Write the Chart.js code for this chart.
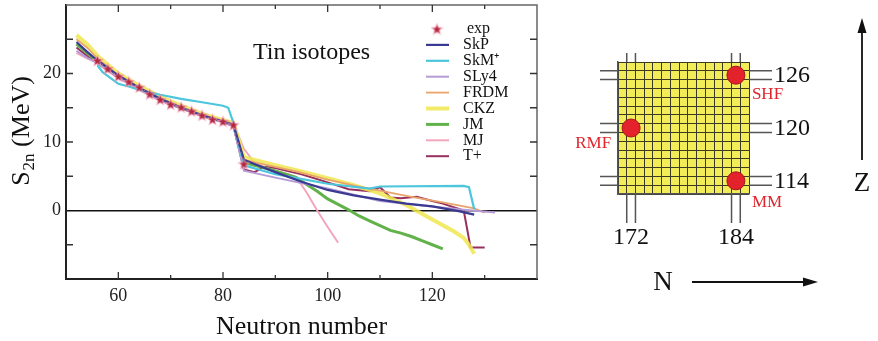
<!DOCTYPE html>
<html>
<head>
<meta charset="utf-8">
<title>Tin isotopes S2n</title>
<script src="https://cdn.jsdelivr.net/npm/chart.js@4.4.1/dist/chart.umd.min.js"></script>
<style>
    body { margin: 0; background: #fff; }
    #wrap { position: relative; width: 878px; height: 341px; }
    #left { position: absolute; left: 0; top: 0; width: 560px; height: 341px; }
    #right { position: absolute; left: 560px; top: 0; width: 318px; height: 341px; }
</style>
</head>
<body>
<div id="wrap">
    <div id="left"><canvas id="s2n"></canvas></div>
    <div id="right"><canvas id="island"></canvas></div>
</div>
<script>
// Ejes de la gráfica izquierda
const xTicks = [60, 80, 100, 120];
const yTicks = [0, 10, 20];
const xMinor = [60, 70, 80, 90, 100, 110, 120, 130];
const yMinor = [-5, 5, 10, 15, 20, 25];

// Datos experimentales
const expN = [56, 58, 60, 62, 64, 66, 68, 70, 72, 74, 76, 78, 80, 82, 84];
const expS = [21.9, 20.7, 19.6, 18.8, 18.0, 17.0, 16.2, 15.5, 15.1, 14.5, 13.9, 13.3, 13.0, 12.5, 6.8];

// Modelos teóricos
const skpN = [52, 54, 56, 60, 64, 68, 72, 76, 80, 82, 84, 86, 90, 95, 100, 105, 110, 115, 120, 125, 128];
const skpS = [24.6, 23.2, 21.9, 19.7, 17.9, 16.3, 15.0, 13.9, 13.0, 12.5, 7.4, 6.8, 5.6, 4.2, 3.0, 2.2, 1.6, 1.0, 0.6, -0.1, -0.6];

const skmN = [56, 57, 60, 62, 64, 68, 72, 76, 80, 81, 82, 84, 90, 100, 108, 110, 126, 127, 128];
const skmS = [21.2, 20.2, 18.5, 18.1, 17.6, 16.9, 16.3, 15.8, 15.3, 15.0, 12.8, 6.6, 5.3, 3.9, 3.2, 3.5, 3.6, 3.4, 0.2];

const sly4N = [52, 54, 56, 60, 64, 68, 72, 76, 80, 82, 84, 90, 100, 110, 120, 126, 132];
const sly4S = [23.3, 22.3, 21.5, 19.4, 17.7, 16.1, 14.9, 13.8, 12.9, 12.3, 5.8, 4.8, 3.2, 1.4, 0.6, 0.1, -0.3];

const frdmN = [52, 54, 56, 60, 64, 68, 72, 76, 80, 82, 84, 88, 94, 100, 106, 110, 116, 122, 128, 130];
const frdmS = [25.0, 23.8, 22.2, 19.8, 18.0, 16.4, 15.1, 14.0, 13.1, 12.7, 7.4, 6.7, 5.7, 4.5, 3.5, 2.9, 2.0, 1.2, 0.3, -0.3];

const ckzN = [52, 54, 56, 60, 64, 68, 72, 76, 80, 82, 84, 90, 95, 100, 105, 110, 115, 120, 124, 126, 127, 128];
const ckzS = [25.6, 24.3, 22.6, 20.0, 18.2, 16.6, 15.3, 14.1, 13.2, 12.8, 7.8, 6.6, 5.7, 4.7, 3.7, 2.5, 0.8, -1.3, -3.0, -4.0, -5.0, -6.3];

const jmN = [52, 54, 56, 60, 64, 68, 72, 76, 80, 82, 84, 88, 92, 94, 96, 98, 100, 102, 104, 106, 108, 110, 112, 114, 116, 118, 120, 122];
const jmS = [24.3, 23.0, 21.8, 19.6, 17.8, 16.2, 15.0, 13.9, 13.0, 12.5, 7.0, 6.2, 5.3, 4.8, 3.8, 2.8, 1.7, 0.9, 0.1, -0.8, -1.5, -2.2, -2.9, -3.3, -3.8, -4.4, -5.0, -5.6];

const mjN = [52, 54, 56, 60, 64, 68, 72, 76, 80, 82, 84, 86, 88, 90, 92, 94, 96, 98, 100, 102];
const mjS = [23.0, 22.2, 21.6, 19.5, 17.8, 16.2, 15.0, 13.9, 13.0, 12.6, 9.0, 7.0, 6.3, 5.8, 5.4, 4.9, 2.6, 0.0, -2.4, -4.7];

const tpN = [52, 54, 56, 60, 64, 68, 72, 76, 80, 82, 84, 86, 88, 90, 95, 100, 104, 108, 110, 112, 114, 117, 120, 122, 126, 127.3, 130];
const tpS = [23.8, 22.6, 21.5, 19.4, 17.7, 16.1, 14.9, 13.8, 12.9, 12.3, 6.0, 5.6, 6.4, 6.2, 5.3, 4.1, 3.1, 2.8, 3.4, 1.9, 1.8, 2.0, 1.4, 1.0, 0.0, -5.4, -5.4];

// Diagrama de la isla de estabilidad
const magicN = [172, 184];
const magicZ = [114, 120, 126];
const modelNames = ["SHF", "RMF", "MM"];
const modelN = [184, 172, 184];
const modelZ = [126, 120, 114];

const serif = '"Liberation Serif", "Times New Roman", serif';
Chart.defaults.font.family = serif;

function pts(ns, ss) {
    return ns.map((n, i) => ({ x: n, y: ss[i] }));
}

// Estrella rellena para los puntos experimentales
function makeStar(r) {
    const c = document.createElement("canvas");
    const s = Math.ceil(r * 2 + 4);
    c.width = c.height = s;
    const g = c.getContext("2d");
    g.translate(s / 2, s / 2 + 0.5);
    g.beginPath();
    for (let i = 0; i < 10; i++) {
        const rad = i % 2 ? r * 0.45 : r;
        const ang = -Math.PI / 2 + i * Math.PI / 5;
        g.lineTo(rad * Math.cos(ang), rad * Math.sin(ang));
    }
    g.closePath();
    g.strokeStyle = "rgba(240,150,175,0.8)";
    g.lineWidth = 2;
    g.stroke();
    g.fillStyle = "#b3283f";
    g.fill();
    return c;
}
const star = makeStar(4.2);

function model(label, ns, ss, color, width) {
    return {
        label: label,
        data: pts(ns, ss),
        borderColor: color,
        borderWidth: width || 2,
        pointRadius: 0,
        tension: 0,
        fill: false
    };
}

const datasets = [
    {
        label: "exp",
        data: pts(expN, expS),
        borderColor: "rgba(225,120,150,0.7)",
        borderWidth: 1,
        borderDash: [2, 3],
        pointStyle: star,
        pointRadius: 4,
        showLine: true
    },
    model("SkP", skpN, skpS, "#3a3a92", 2.2),
    model("SkM\u207A", skmN, skmS, "#4cc6dc", 2.2),
    model("SLy4", sly4N, sly4S, "#b49cd6", 2),
    model("FRDM", frdmN, frdmS, "#e9a46c", 1.8),
    model("CKZ", ckzN, ckzS, "rgba(240,232,80,0.85)", 4),
    model("JM", jmN, jmS, "#62b24c", 3),
    model("MJ", mjN, mjS, "#f2a6bc", 2),
    model("T+", tpN, tpS, "#98305e", 2)
];

// Marco, marcas interiores, leyenda y títulos
const framePlugin = {
    id: "frame",
    afterDraw(chart) {
        const { ctx, chartArea: a, scales: { x, y } } = chart;
        ctx.save();
        ctx.strokeStyle = "#666";
        ctx.lineWidth = 1.5;
        ctx.beginPath();
        ctx.moveTo(a.left, a.top);
        ctx.lineTo(a.right, a.top);
        ctx.lineTo(a.right, a.bottom);
        ctx.stroke();

        ctx.strokeStyle = "#333";
        ctx.lineWidth = 1.3;
        ctx.beginPath();
        xMinor.forEach(v => {
            const px = x.getPixelForValue(v);
            const len = v % 20 === 0 ? 7 : 4;
            ctx.moveTo(px, a.bottom); ctx.lineTo(px, a.bottom - len);
            ctx.moveTo(px, a.top); ctx.lineTo(px, a.top + len);
        });
        yMinor.forEach(v => {
            const py = y.getPixelForValue(v);
            ctx.moveTo(a.left, py); ctx.lineTo(a.left + 7, py);
            ctx.moveTo(a.right, py); ctx.lineTo(a.right - 7, py);
        });
        ctx.stroke();

        // Título interior
        ctx.fillStyle = "#111";
        ctx.textAlign = "left";
        ctx.textBaseline = "alphabetic";
        ctx.font = "24px " + serif;
        ctx.fillText("Tin isotopes", a.left + 187, a.top + 54);

        // Leyenda
        const lx = a.right - 111, ly = a.top + 24, row = 15.9;
        ctx.font = "16px " + serif;
        ctx.textBaseline = "middle";
        chart.data.datasets.forEach((ds, i) => {
            const yy = ly + i * row;
            if (ds.pointStyle === star) {
                ctx.drawImage(star, lx + 11 - star.width / 2, yy - star.height / 2);
            } else {
                ctx.strokeStyle = ds.borderColor;
                ctx.lineWidth = ds.borderWidth;
                ctx.beginPath();
                ctx.moveTo(lx, yy); ctx.lineTo(lx + 23, yy);
                ctx.stroke();
            }
            ctx.fillStyle = "#111";
            ctx.fillText(ds.label, lx + (i === 0 ? 41 : 37), yy);
        });

        // Título eje X
        ctx.textAlign = "center";
        ctx.textBaseline = "alphabetic";
        ctx.font = "26px " + serif;
        ctx.fillText("Neutron number", (a.left + a.right) / 2, 334);

        // Título eje Y con subíndice
        ctx.translate(29, 131);
        ctx.rotate(-Math.PI / 2);
        const big = "26px " + serif, small = "17px " + serif;
        ctx.font = big;
        const wS = ctx.measureText("S").width;
        const wM = ctx.measureText(" (MeV)").width;
        ctx.font = small;
        const w2 = ctx.measureText("2n").width;
        const x0 = -(wS + w2 + wM + 1) / 2;
        ctx.textAlign = "left";
        ctx.font = big;
        ctx.fillText("S", x0, 0);
        ctx.font = small;
        ctx.fillText("2n", x0 + wS + 1, 5);
        ctx.font = big;
        ctx.fillText(" (MeV)", x0 + wS + w2 + 1, 0);
        ctx.restore();
    }
};

new Chart(document.getElementById("s2n"), {
    type: "line",
    data: { datasets: datasets },
    options: {
        responsive: true,
        maintainAspectRatio: false,
        animation: false,
        layout: { padding: { top: 5, right: 23, left: 0, bottom: 0 } },
        plugins: { legend: { display: false }, tooltip: { enabled: false } },
        scales: {
            x: {
                type: "linear",
                min: 50,
                max: 140,
                afterBuildTicks: s => { s.ticks = xTicks.map(v => ({ value: v })); },
                afterFit: s => { s.height = 62; s.paddingLeft = 0; s.paddingRight = 0; },
                grid: { color: "rgba(0,0,0,0)", drawTicks: false },
                border: { display: true, color: "#222", width: 2 },
                ticks: { color: "#222", font: { size: 18 }, padding: 6, maxRotation: 0 }
            },
            y: {
                type: "linear",
                min: -10,
                max: 30,
                afterBuildTicks: s => { s.ticks = yTicks.map(v => ({ value: v })); },
                afterFit: s => { s.width = 66; s.paddingTop = 0; s.paddingBottom = 0; },
                grid: {
                    color: c => (c.tick && c.tick.value === 0 ? "#111" : "rgba(0,0,0,0)"),
                    lineWidth: 1.6,
                    drawTicks: false
                },
                border: { display: true, color: "#222", width: 2 },
                ticks: { color: "#222", font: { size: 18 }, padding: 5 }
            }
        }
    },
    plugins: [framePlugin]
});

// Diagrama N-Z
const labelStyle = {
    SHF: { dx: 16, dy: 19, align: "left" },
    RMF: { dx: -20, dy: 16, align: "right" },
    MM: { dx: 16, dy: 22, align: "left" }
};

function cellEdges(min, max) {
    const t = [];
    for (let v = min; v <= max + 1e-6; v += 1) t.push({ value: v });
    return t;
}

const islandBg = {
    id: "islandBg",
    beforeDraw(chart) {
        const { ctx, chartArea: a } = chart;
        ctx.save();
        ctx.fillStyle = "#f1ec58";
        ctx.fillRect(a.left, a.top, a.right - a.left, a.bottom - a.top);
        ctx.restore();
    }
};

const islandDeco = {
    id: "islandDeco",
    afterDraw(chart) {
        const { ctx, chartArea: a, scales: { x, y } } = chart;
        ctx.save();
        ctx.strokeStyle = "#555";
        ctx.lineWidth = 1.5;
        ctx.beginPath();
        magicN.forEach(n => {
            [-0.5, 0.5].forEach(o => {
                const px = x.getPixelForValue(n + o);
                ctx.moveTo(px, a.top - 9); ctx.lineTo(px, a.top);
                ctx.moveTo(px, a.bottom); ctx.lineTo(px, a.bottom + 29);
            });
        });
        magicZ.forEach(z => {
            [-0.5, 0.5].forEach(o => {
                const py = y.getPixelForValue(z + o);
                ctx.moveTo(a.left - 18, py); ctx.lineTo(a.left, py);
                ctx.moveTo(a.right, py); ctx.lineTo(a.right + 23, py);
            });
        });
        ctx.stroke();

        ctx.fillStyle = "#111";
        ctx.font = "24px " + serif;
        ctx.textAlign = "left";
        ctx.textBaseline = "middle";
        magicZ.forEach(z => ctx.fillText(String(z), a.right + 25, y.getPixelForValue(z) + 1));
        ctx.textAlign = "center";
        magicN.forEach(n => ctx.fillText(String(n), x.getPixelForValue(n), a.bottom + 44));

        ctx.fillStyle = "#e0242c";
        ctx.font = "17px " + serif;
        modelNames.forEach((name, i) => {
            const st = labelStyle[name];
            ctx.textAlign = st.align;
            ctx.fillText(name, x.getPixelForValue(modelN[i]) + st.dx, y.getPixelForValue(modelZ[i]) + st.dy);
        });

        // Flechas Z y N
        ctx.strokeStyle = "#111";
        ctx.fillStyle = "#111";
        ctx.lineWidth = 1.8;
        ctx.beginPath();
        ctx.moveTo(302, 160); ctx.lineTo(302, 28);
        ctx.moveTo(132, 282); ctx.lineTo(250, 282);
        ctx.stroke();
        ctx.beginPath();
        ctx.moveTo(302, 18); ctx.lineTo(297.5, 33); ctx.lineTo(306.5, 33); ctx.closePath();
        ctx.moveTo(258, 282); ctx.lineTo(243, 277.5); ctx.lineTo(243, 286.5); ctx.closePath();
        ctx.fill();

        ctx.font = "27px " + serif;
        ctx.textAlign = "center";
        ctx.fillText("Z", 302, 184);
        ctx.fillText("N", 103, 283);
        ctx.restore();
    }
};

new Chart(document.getElementById("island"), {
    type: "scatter",
    data: {
        datasets: [{
            label: "predictions",
            data: pts(modelN, modelZ),
            pointRadius: 9,
            backgroundColor: "#e3222b",
            borderColor: "#a8141a",
            borderWidth: 1,
            clip: false
        }]
    },
    options: {
        responsive: true,
        maintainAspectRatio: false,
        animation: false,
        layout: { padding: { left: 58, right: 129, top: 62, bottom: 147 } },
        plugins: { legend: { display: false }, tooltip: { enabled: false } },
        scales: {
            x: {
                type: "linear",
                min: 170.5,
                max: 185.5,
                afterBuildTicks: s => { s.ticks = cellEdges(170.5, 185.5); },
                afterFit: s => { s.height = 0; },
                ticks: { display: false },
                grid: { color: "#3c3a22", lineWidth: 1, drawTicks: false },
                border: { color: "#555", width: 1.5 }
            },
            y: {
                type: "linear",
                min: 112.5,
                max: 127.5,
                afterBuildTicks: s => { s.ticks = cellEdges(112.5, 127.5); },
                afterFit: s => { s.width = 0; },
                ticks: { display: false },
                grid: { color: "#3c3a22", lineWidth: 1, drawTicks: false },
                border: { color: "#555", width: 1.5 }
            }
        }
    },
    plugins: [islandBg, islandDeco]
});
</script>
</body>
</html>
